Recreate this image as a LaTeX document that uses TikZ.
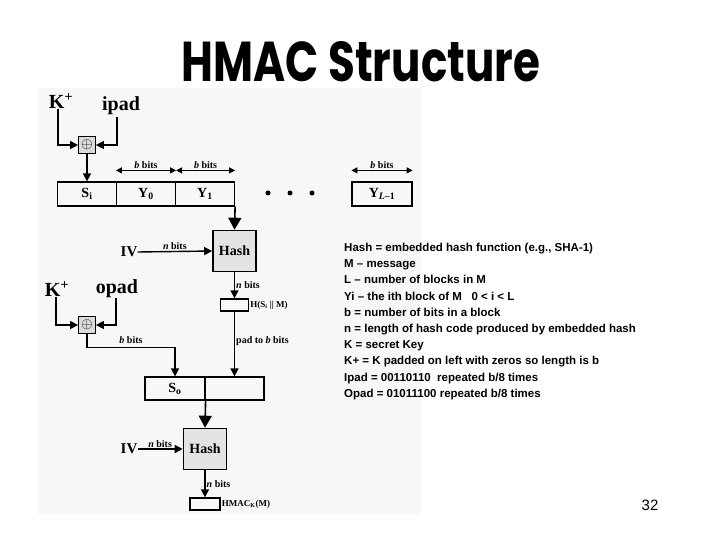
\documentclass[tikz,border=0pt]{standalone}
\usepackage{fontspec}
\setmainfont{Liberation Serif}
\newfontfamily\arialf{Liberation Sans}
\newfontfamily\titlef{Poppins}
\usetikzlibrary{arrows.meta,calc}
\begin{document}
\begin{tikzpicture}[x=1pt,y=-1pt,
  cell/.style={draw,line width=1.2pt,minimum height=24pt,inner sep=0pt,font=\fontsize{14}{14}\selectfont\bfseries},
  hashbox/.style={draw,line width=1.6pt,fill=gray!22,minimum width=43pt,minimum height=41pt,inner sep=0pt,font=\fontsize{14}{14}\selectfont\bfseries},
  xorbox/.style={draw,line width=0.8pt,fill=gray!28,minimum size=17pt,inner sep=0pt},
  outbox/.style={draw,line width=1.4pt,minimum height=12pt,inner sep=0pt},
  lbl/.style={font=\fontsize{10}{10}\selectfont\bfseries,inner sep=1pt},
  big/.style={font=\fontsize{20}{20}\selectfont\bfseries,inner sep=0pt},
  arr/.style={line width=1.4pt,-{Triangle[length=8pt,width=8pt]}},
  barr/.style={line width=1.6pt,-{Triangle[length=12pt,width=13pt]}},
  darr/.style={line width=1.2pt,{Triangle[length=6pt,width=6pt]}-{Triangle[length=6pt,width=6pt]}},
  dot/.style={circle,fill,inner sep=0pt,minimum size=5pt}]
\useasboundingbox (0,0) rectangle (720,540);
\fill[white] (0,0) rectangle (720,540);
\fill[gray!6] (38,88) rectangle (421,514);
% title
\node[inner sep=0pt] (title) at (361,62) {\resizebox{358pt}{40pt}{\titlef\bfseries HMAC Structure}};
% top part
\node[big] (kp1) at (61,101) {K\textsuperscript{+}};
\node[big] (ipad) at (121,106) {ipad};
\node[xorbox] (xor1) at (87,145) {\scalebox{1.5}{$\oplus$}};
\node[cell,minimum width=59pt] (si) at (87,194) {S\textsubscript{i}};
\node[cell,minimum width=59pt] (y0) at (146,194) {Y\textsubscript{0}};
\node[cell,minimum width=59pt] (y1) at (205,194) {Y\textsubscript{1}};
\node[dot] (d1) at (268,193) {};
\node[dot] (d2) at (290,193) {};
\node[dot] (d3) at (312,193) {};
\node[cell,minimum width=60pt] (yl) at (382,194) {Y\textsubscript{\textit{L}–1}};
\draw[arr] ([xshift=-3pt]kp1.south) |- (xor1.west);
\draw[arr] ([xshift=-4pt,yshift=-2pt]ipad.south) |- (xor1.east);
\draw[arr] (xor1.south) -- (si.north);
\coordinate (a0) at ($(y0.north west)+(0,-11)$);
\coordinate (a1) at ($(y0.north east)+(0,-11)$);
\coordinate (a2) at ($(y1.north east)+(0,-11)$);
\coordinate (a3) at ($(yl.north west)+(0,-11)$);
\coordinate (a4) at ($(yl.north east)+(0,-11)$);
\draw[darr] (a0) -- node[lbl,above] {\textit{b} bits} (a1);
\draw[darr] (a1) -- node[lbl,above] {\textit{b} bits} (a2);
\draw[darr] (a3) -- node[lbl,above] {\textit{b} bits} (a4);
% first hash
\node[hashbox] (hash1) at (234.5,251) {Hash};
\node[big,font=\fontsize{15}{15}\selectfont\bfseries] (iv1) at (129,252) {IV};
\draw[barr] (y1.south east) -- (hash1.north);
\draw[arr] (iv1.east) -- node[lbl,above] {\textit{n} bits} (hash1.west);
\node[outbox,minimum width=28pt] (hb) at (234.5,305) {};
\node[lbl,anchor=west,font=\fontsize{9}{9}\selectfont\bfseries] (hbl) at (hb.east) {H(S\textsubscript{i} || M)};
\draw[arr] (hash1.south) -- node[lbl,right] {\textit{n} bits} (hb.north);
% second part
\node[big] (kp2) at (57,289) {K\textsuperscript{+}};
\node[big] (opad) at (117,289) {opad};
\node[xorbox] (xor2) at (87,325) {\scalebox{1.5}{$\oplus$}};
\node[cell,minimum width=60pt,minimum height=23pt] (so1) at (175,388.5) {S\textsubscript{o}};
\node[cell,minimum width=59pt,minimum height=23pt] (so2) at (234.5,388.5) {};
\draw[arr] ([xshift=-1pt]kp2.south) |- (xor2.west);
\draw[arr] ([xshift=-1pt]opad.south) |- (xor2.east);
\draw[arr] (xor2.south) |- node[lbl,pos=0.75,above=2pt] {\textit{b} bits} ($(so1.north)+(0,-29)$) -- (so1.north);
\draw[arr] (hb.south) -- node[lbl,right,pos=0.45] {pad to \textit{b} bits} (so2.north);
% second hash
\node[hashbox] (hash2) at (205,449) {Hash};
\node[big,font=\fontsize{15}{15}\selectfont\bfseries] (iv2) at (129,449) {IV};
\draw[barr] (so1.south east) -- (hash2.north);
\draw[arr] (iv2.east) -- node[lbl,above] {\textit{n} bits} (hash2.west);
\node[outbox,minimum width=30pt] (hm) at (205,504) {};
\node[lbl,anchor=west,font=\fontsize{9}{9}\selectfont\bfseries] (hml) at (hm.east) {HMAC\textsubscript{K}(M)};
\draw[arr] (hash2.south) -- node[lbl,right] {\textit{n} bits} (hm.north);
% legend
\node[anchor=north west,align=left,inner sep=0pt,font=\arialf\bfseries\fontsize{11.5}{16.2}\selectfont] (legend) at (344,243) {Hash = embedded hash function (e.g., SHA-1)\\
M – message\\
L – number of blocks in M\\
Yi – the ith block of M\ \ \ 0 < i < L\\
b = number of bits in a block\\
n = length of hash code produced by embedded hash\\
K = secret Key\\
K+ = K padded on left with zeros so length is b\\
Ipad = 00110110\ \ repeated b/8 times\\
Opad = 01011100 repeated b/8 times};
\node[font=\arialf\fontsize{15}{15}\selectfont] (pg) at (650,505) {32};
\end{tikzpicture}
\end{document}
